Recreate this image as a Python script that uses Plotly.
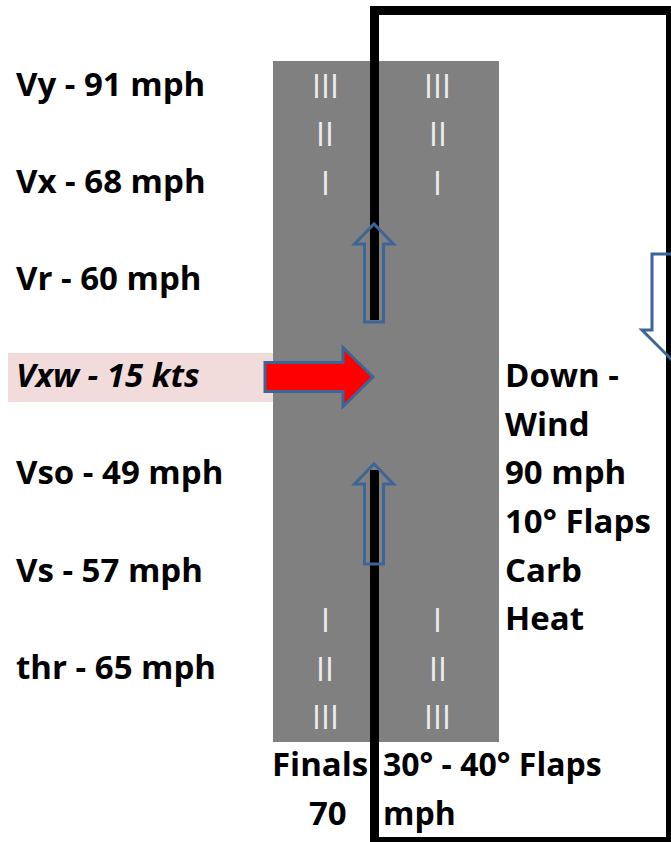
import plotly.graph_objects as go

# ---- content ----
speed_names = ["Vy", "Vx", "Vr", "Vxw", "Vso", "Vs", "thr"]
speed_values = [91, 68, 60, 15, 49, 57, 65]
speed_units = ["mph", "mph", "mph", "kts", "mph", "mph", "mph"]
downwind_lines = ["Down -", "Wind", "90 mph", "10° Flaps", "Carb", "Heat"]
runway_marks_top = ["III", "II", "I"]
runway_marks_bottom = ["I", "II", "III"]
finals_lines = ["Finals", "70"]
flaps_lines = ["30° - 40° Flaps", "mph"]

# ---- layout constants ----
W, H = 671, 842
ROW0 = 83.0          # y of first text line
HALF = 48.6          # line pitch
FONT = "Open Sans, Noto Sans, DejaVu Sans, sans-serif"
FS = 33
BLUE = "#3D6596"
GRAY = "#808080"
PINK = "#F2DCDB"

def row_y(k):
    return ROW0 + HALF * k

fig = go.Figure()
shapes = []
ann = []

# pink highlight behind crosswind label
shapes.append(dict(type="rect", x0=8, x1=273, y0=353, y1=402, fillcolor=PINK, line_width=0))
# runway
shapes.append(dict(type="rect", x0=273, x1=499, y0=61, y1=742, fillcolor=GRAY, line_width=0))
# traffic pattern (black)
for r in [(370, 671, 6, 15), (370, 379, 6, 320), (370, 379, 470, 842),
          (666, 676, 6, 846), (370, 676, 837, 846)]:
    shapes.append(dict(type="rect", x0=r[0], x1=r[1], y0=r[2], y1=r[3], fillcolor="black", line_width=0))

def arrow_path(cx, tip, tail, sw=9.5, hw=19.5, hl=20, direction=1):
    # direction 1 = up, -1 = down
    b = tip + direction * hl
    pts = [(cx - sw, tail), (cx - sw, b), (cx - hw, b), (cx, tip), (cx + hw, b), (cx + sw, b), (cx + sw, tail)]
    return "M " + " L ".join(f"{x},{y}" for x, y in pts) + " Z"

# upwind arrows on runway centre, downwind arrow on right leg (partly off-canvas)
shapes.append(dict(type="path", path=arrow_path(374, 224, 322), line=dict(color=BLUE, width=3), fillcolor="rgba(0,0,0,0)"))
shapes.append(dict(type="path", path=arrow_path(374, 464, 564), line=dict(color=BLUE, width=3), fillcolor="rgba(0,0,0,0)"))
shapes.append(dict(type="path", path=arrow_path(678, 366, 254, sw=26, hw=36, hl=36, direction=-1),
                   line=dict(color=BLUE, width=3), fillcolor="rgba(0,0,0,0)"))
# crosswind arrow (red)
cy = 377
shapes.append(dict(type="path",
                   path=f"M 265,{cy-14.5} L 343,{cy-14.5} L 343,{cy-29.5} L 373,{cy} L 343,{cy+29.5} L 343,{cy+14.5} L 265,{cy+14.5} Z",
                   line=dict(color=BLUE, width=3), fillcolor="#FF0000"))

# left speed labels
for i, (n, v, u) in enumerate(zip(speed_names, speed_values, speed_units)):
    txt = f"<b>{n} - {v} {u}</b>"
    if n == "Vxw":
        txt = f"<b><i>{n} - {v} {u}</i></b>"
    ann.append(dict(x=14, y=row_y(2 * i), text=txt, xanchor="left", yanchor="middle",
                    showarrow=False, font=dict(family=FONT, size=FS, color="black")))

# downwind text
for j, t in enumerate(downwind_lines):
    ann.append(dict(x=503, y=row_y(6 + j), text=f"<b>{t}</b>", xanchor="left", yanchor="middle",
                    showarrow=False, font=dict(family=FONT, size=FS, color="black")))

# runway markings
for cx in (325, 437.5):
    for j, t in enumerate(runway_marks_top):
        ann.append(dict(x=cx, y=row_y(j) + 2, text=t, xanchor="center", yanchor="middle", showarrow=False,
                        font=dict(family=FONT, size=32, color="#EDEDED")))
    for j, t in enumerate(runway_marks_bottom):
        ann.append(dict(x=cx, y=row_y(11 + j) + 2, text=t, xanchor="center", yanchor="middle", showarrow=False,
                        font=dict(family=FONT, size=32, color="#EDEDED")))

# bottom labels
for j, (t, xc) in enumerate(zip(finals_lines, [320, 328])):
    ann.append(dict(x=xc, y=row_y(14 + j), text=f"<b>{t}</b>", xanchor="center", yanchor="middle",
                    showarrow=False, font=dict(family=FONT, size=FS, color="black")))
for j, t in enumerate(flaps_lines):
    ann.append(dict(x=381, y=row_y(14 + j), text=f"<b>{t}</b>", xanchor="left", yanchor="middle",
                    showarrow=False, font=dict(family=FONT, size=32, color="black")))

fig.update_layout(
    width=W, height=H, autosize=False,
    margin=dict(l=0, r=0, t=0, b=0),
    paper_bgcolor="white", plot_bgcolor="white",
    xaxis=dict(range=[0, W], visible=False, fixedrange=True),
    yaxis=dict(range=[H, 0], visible=False, fixedrange=True),
    shapes=shapes, annotations=ann, showlegend=False,
)
fig.write_html("out.html", config={"displayModeBar": False},
               post_script="document.body.style.margin='0';document.body.style.overflow='hidden';")
